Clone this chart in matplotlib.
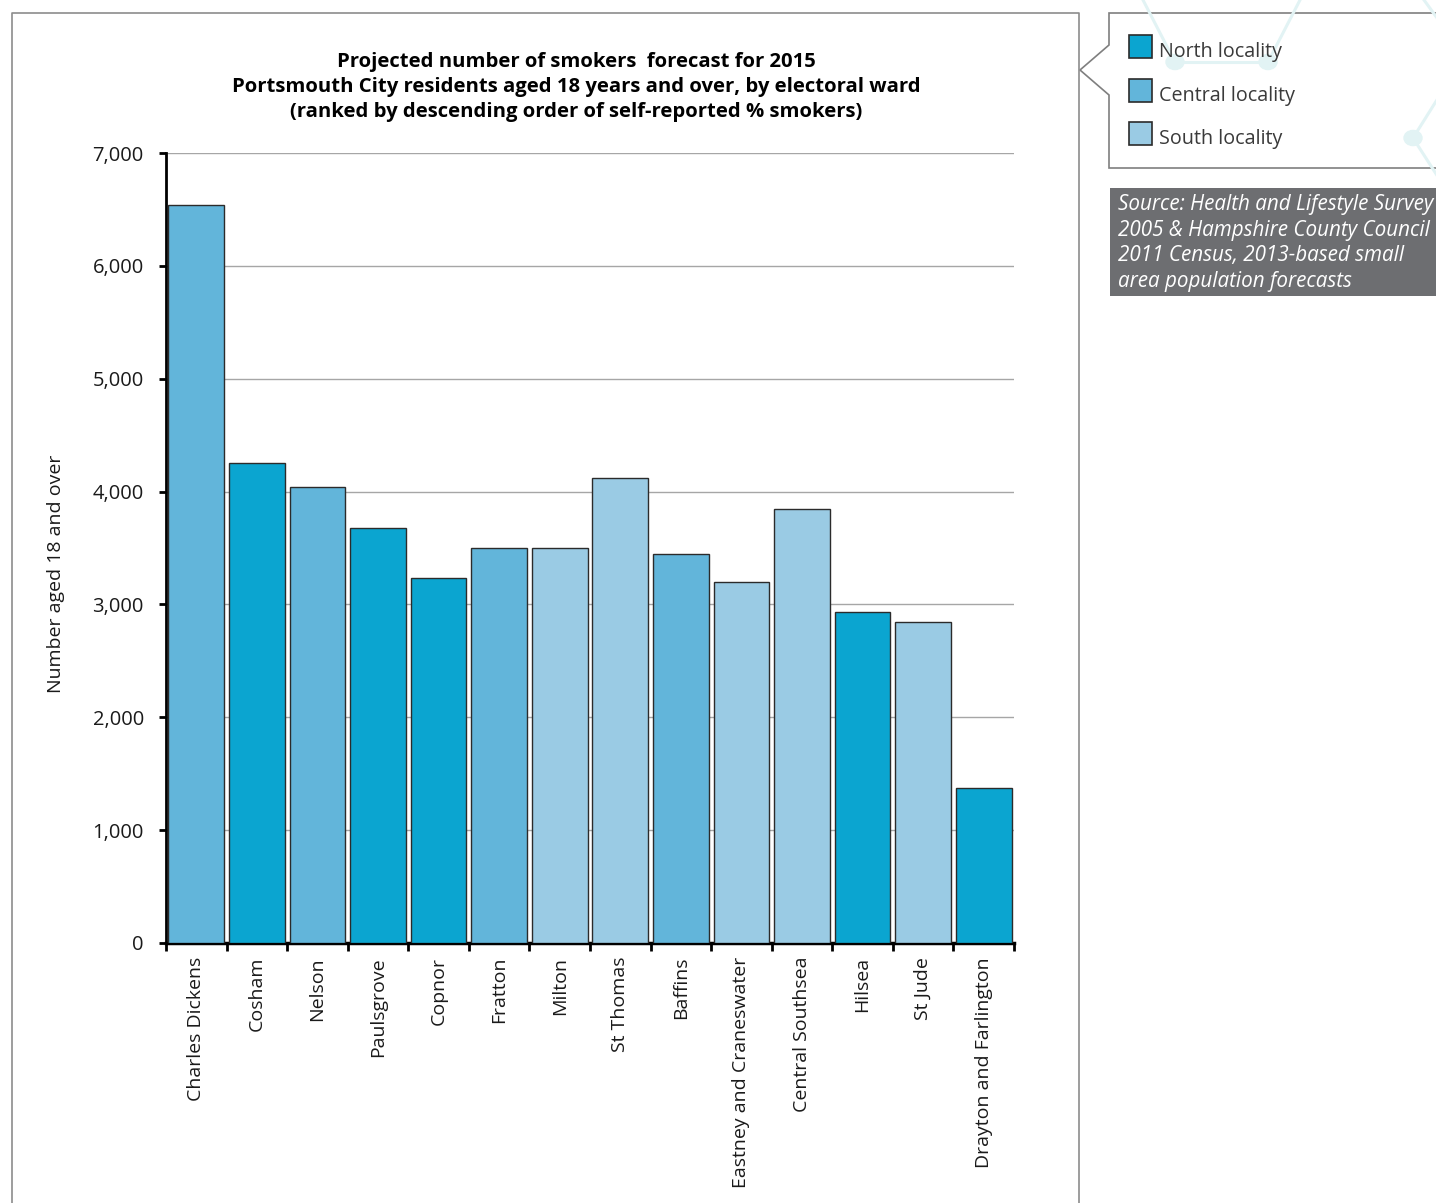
import matplotlib.pyplot as plt
from matplotlib.patches import Rectangle, Polygon, Circle
from matplotlib.lines import Line2D
from matplotlib.ticker import FuncFormatter, FixedLocator

plt.rcParams['font.family'] = ['Open Sans', 'DejaVu Sans']

wards = ['Charles Dickens', 'Cosham', 'Nelson', 'Paulsgrove', 'Copnor', 'Fratton',
         'Milton', 'St Thomas', 'Baffins', 'Eastney and Craneswater',
         'Central Southsea', 'Hilsea', 'St Jude', 'Drayton and Farlington']
smokers = [6540, 4253, 4040, 3677, 3234, 3500, 3500, 4120, 3447, 3199, 3845, 2933, 2844, 1373]
locality = ['Central', 'North', 'Central', 'North', 'North', 'Central', 'South',
            'South', 'Central', 'South', 'South', 'North', 'South', 'North']

colours = {'North': '#0BA5D0', 'Central': '#62B5DA', 'South': '#9ACBE4'}

W, H = 1436, 1203
fig = plt.figure(figsize=(W / 100, H / 100), dpi=100)


def fx(px):
    return px / W


def fy(py):
    return 1 - py / H


# chart frame (open at the bottom)
fig.add_artist(Line2D([fx(12), fx(12), fx(1079), fx(1079)], [0, fy(13), fy(13), 0],
                      color='#8C8C8C', lw=1.2))

ax = fig.add_axes([fx(166), fy(943), fx(1014) - fx(166), fy(153) - fy(943)])
x = list(range(len(wards)))
ax.bar(x, smokers, width=0.92, color=[colours[l] for l in locality],
       edgecolor='#2B2B2B', linewidth=1, zorder=3)
ax.set_xlim(-0.5, len(wards) - 0.5)
ax.set_ylim(0, 7000)
ax.set_yticks(range(0, 7001, 1000))
ax.yaxis.set_major_formatter(FuncFormatter(lambda v, p: f'{int(v):,}'))
ax.grid(axis='y', color='#A6A6A6', lw=1, zorder=0)
ax.set_xticks(x)
ax.set_xticklabels(wards, rotation=90, fontsize=14, color='#1A1A1A')
ax.tick_params(axis='x', length=0, pad=10)
ax.xaxis.set_minor_locator(FixedLocator([i - 0.5 for i in range(len(wards) + 1)]))
ax.tick_params(axis='x', which='minor', length=6, width=2, color='black')
ax.tick_params(axis='y', labelsize=14.5, length=5, width=2, pad=11, labelcolor='#1A1A1A')
for s in ['top', 'right']:
    ax.spines[s].set_visible(False)
ax.spines['left'].set_linewidth(2)
ax.spines['bottom'].set_linewidth(2.5)
ax.set_ylabel('Number aged 18 and over', fontsize=14, color='#1A1A1A')
ax.yaxis.set_label_coords(-0.119, 0.467)

fig.text(fx(576), fy(87),
         'Projected number of smokers  forecast for 2015\n'
         'Portsmouth City residents aged 18 years and over, by electoral ward\n'
         '(ranked by descending order of self-reported % smokers)',
         ha='center', va='center', fontsize=14.6, fontweight='bold', linespacing=1.3)

# legend callout
pts = [(1109, 13), (1445, 13), (1445, 168), (1109, 168), (1109, 95), (1080, 70), (1109, 45)]
fig.add_artist(Polygon([(fx(a), fy(b)) for a, b in pts], closed=True, facecolor='white',
                       edgecolor='#7F7F7F', lw=1.2, transform=fig.transFigure, zorder=1))

# faint background network decoration
deco = '#E2F3F4'
for (x0, y0, x1, y1) in [(1143, 0, 1175, 62), (1175, 62, 1268, 62), (1268, 62, 1300, 0),
                         (1413, 138, 1440, 95), (1413, 138, 1440, 180), (1424, 0, 1440, 22)]:
    fig.add_artist(Line2D([fx(x0), fx(x1)], [fy(y0), fy(y1)], color=deco, lw=2.2, zorder=1.5))
for (cx, cy) in [(1175, 62), (1268, 62), (1413, 138)]:
    fig.add_artist(Circle((fx(cx), fy(cy)), 9 / W, color=deco, zorder=1.5,
                          transform=fig.transFigure))

for i, name in enumerate(['North', 'Central', 'South']):
    top = 35 + i * 43.5
    fig.add_artist(Rectangle((fx(1129), fy(top + 23)), 23 / W, 23 / H,
                             facecolor=colours[name], edgecolor='#2B2B2B', lw=1.2,
                             transform=fig.transFigure, zorder=2))
    fig.text(fx(1159), fy(top + 17), f'{name} locality', fontsize=14.2, va='center',
             color='#3A3A3A', zorder=3)

# source box
fig.add_artist(Rectangle((fx(1110), fy(296)), (W - 1110) / W, 108 / H,
                         facecolor='#6D6E71', edgecolor='none', transform=fig.transFigure))
fig.text(fx(1118), fy(243),
         'Source: Health and Lifestyle Survey\n2005 & Hampshire County Council\n'
         '2011 Census, 2013-based small\narea population forecasts',
         fontsize=14.9, style='italic', color='white', va='center', linespacing=1.29)

fig.savefig('out.png', dpi=100)
